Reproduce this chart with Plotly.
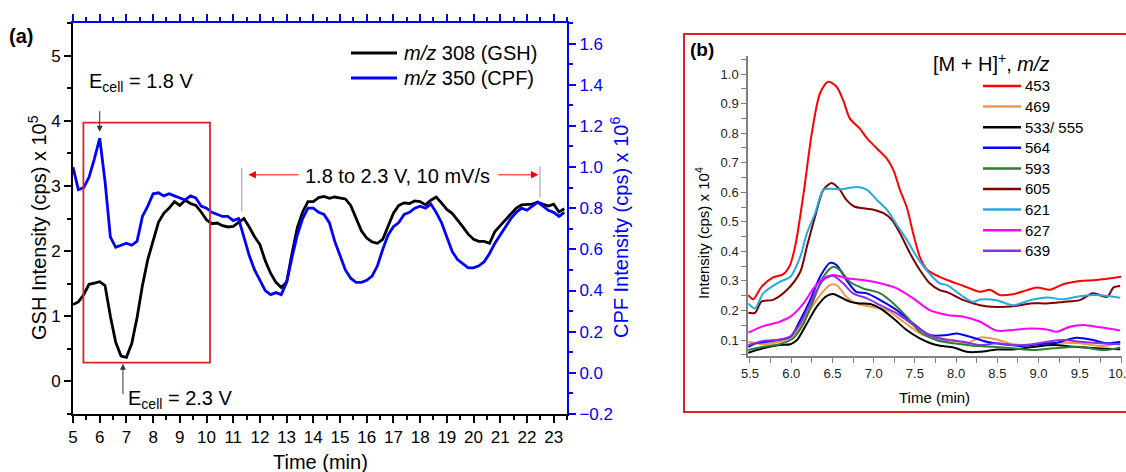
import plotly.graph_objects as go

W, H = 1126, 472
FONT = "Liberation Sans, Arial, sans-serif"

# ---------------- Panel (a) data ----------------
time_a = [5.0, 5.2, 5.4, 5.6, 5.8, 6.0, 6.2, 6.4, 6.6, 6.8, 7.0, 7.2, 7.4, 7.6, 7.8,
          8.0, 8.2, 8.4, 8.6, 8.8, 9.0, 9.2, 9.4, 9.6, 9.8, 10.0, 10.2, 10.4, 10.6, 10.8,
          11.0, 11.2, 11.4, 11.6, 11.8, 12.0, 12.2, 12.4, 12.6, 12.8, 13.0, 13.2, 13.4, 13.6, 13.8,
          14.0, 14.2, 14.4, 14.6, 14.8, 15.0, 15.2, 15.4, 15.6, 15.8, 16.0, 16.2, 16.4, 16.6, 16.8,
          17.0, 17.2, 17.4, 17.6, 17.8, 18.0, 18.2, 18.4, 18.6, 18.8, 19.0, 19.2, 19.4, 19.6, 19.8,
          20.0, 20.2, 20.4, 20.6, 20.8, 21.0, 21.2, 21.4, 21.6, 21.8, 22.0, 22.2, 22.4, 22.6, 22.8,
          23.0, 23.2, 23.4]
gsh = [1.18, 1.22, 1.33, 1.49, 1.51, 1.53, 1.47, 1.00, 0.60, 0.39, 0.37, 0.58, 0.98, 1.47, 1.87,
       2.14, 2.44, 2.58, 2.66, 2.76, 2.70, 2.78, 2.73, 2.70, 2.60, 2.48, 2.42, 2.43, 2.39, 2.37,
       2.38, 2.44, 2.50, 2.37, 2.22, 2.10, 1.85, 1.66, 1.52, 1.44, 1.52, 1.96, 2.36, 2.60, 2.76,
       2.76, 2.82, 2.84, 2.81, 2.83, 2.82, 2.80, 2.70, 2.50, 2.31, 2.20, 2.14, 2.12, 2.18, 2.38,
       2.58, 2.70, 2.74, 2.73, 2.77, 2.76, 2.71, 2.78, 2.83, 2.74, 2.64, 2.58, 2.48, 2.37, 2.26,
       2.18, 2.15, 2.15, 2.12, 2.30, 2.39, 2.48, 2.57, 2.66, 2.71, 2.71, 2.72, 2.75, 2.72, 2.69,
       2.72, 2.60, 2.65]
cpf = [1.00, 0.89, 0.90, 0.95, 1.04, 1.14, 0.93, 0.66, 0.61, 0.62, 0.63, 0.62, 0.64, 0.76, 0.81,
       0.87, 0.875, 0.86, 0.87, 0.86, 0.85, 0.84, 0.86, 0.85, 0.81, 0.80, 0.78, 0.77, 0.76, 0.76,
       0.74, 0.75, 0.66, 0.57, 0.50, 0.45, 0.40, 0.38, 0.39, 0.38, 0.44, 0.56, 0.67, 0.75, 0.80,
       0.80, 0.78, 0.77, 0.73, 0.64, 0.57, 0.50, 0.46, 0.44, 0.44, 0.45, 0.47, 0.52, 0.60, 0.67,
       0.71, 0.73, 0.77, 0.78, 0.80, 0.81, 0.80, 0.82, 0.78, 0.73, 0.66, 0.59, 0.55, 0.53, 0.51,
       0.51, 0.52, 0.54, 0.58, 0.63, 0.67, 0.71, 0.75, 0.78, 0.80, 0.79, 0.81, 0.83, 0.81, 0.79,
       0.78, 0.76, 0.78]
series_a_names = ["<i>m/z</i> 308 (GSH)", "<i>m/z</i> 350 (CPF)"]
series_a_colors = ["#000000", "#0000ff"]

# ---------------- Panel (b) data ----------------
b_labels = ["453", "469", "533/ 555", "564", "593", "605", "621", "627", "639"]
b_colors = ["#ff0000", "#f79646", "#000000", "#0000ff", "#2f7d32", "#7f0000", "#29a9e0", "#ff00ff", "#8b2fe8"]

t453 = [5.48, 5.54, 5.64, 5.78, 5.90, 5.98, 6.05, 6.15, 6.25, 6.35, 6.45, 6.55, 6.63, 6.71, 6.83, 6.92, 7.04,
        7.16, 7.24, 7.32, 7.40, 7.48, 7.56, 7.64, 7.72, 7.80, 7.89, 8.09, 8.29, 8.41, 8.53, 8.69, 8.86,
        8.98, 9.14, 9.30, 9.50, 9.70, 10.0]
v453 = [0.252, 0.238, 0.280, 0.312, 0.322, 0.350, 0.420, 0.596, 0.800, 0.935, 0.974, 0.957, 0.912, 0.850, 0.816,
        0.782, 0.748, 0.714, 0.675, 0.607, 0.551, 0.460, 0.381, 0.340, 0.325, 0.314, 0.303, 0.283, 0.263,
        0.270, 0.252, 0.255, 0.269, 0.278, 0.270, 0.289, 0.300, 0.303, 0.314]
t469 = [5.48, 5.66, 5.86, 6.03, 6.19, 6.35, 6.47, 6.55, 6.67, 6.79, 6.96, 7.16, 7.36, 7.56, 7.76, 7.97, 8.13,
        8.29, 8.49, 8.69, 8.90, 9.10, 9.30, 9.50, 9.79, 9.99]
v469 = [0.094, 0.086, 0.094, 0.117, 0.185, 0.252, 0.286, 0.286, 0.246, 0.224, 0.213, 0.201, 0.162, 0.123, 0.106,
        0.100, 0.089, 0.109, 0.102, 0.086, 0.083, 0.089, 0.091, 0.089, 0.080, 0.091]
t533 = [5.48, 5.66, 5.86, 5.99, 6.07, 6.19, 6.31, 6.43, 6.51, 6.59, 6.71, 6.83, 6.96, 7.08, 7.24, 7.40, 7.56,
        7.76, 7.97, 8.13, 8.29, 8.49, 8.69, 8.94, 9.18, 9.42, 9.70, 9.99]
v533 = [0.057, 0.072, 0.083, 0.086, 0.100, 0.156, 0.213, 0.249, 0.256, 0.246, 0.230, 0.224, 0.222, 0.207, 0.173,
        0.134, 0.106, 0.083, 0.075, 0.060, 0.060, 0.068, 0.068, 0.077, 0.083, 0.077, 0.072, 0.069]
t564 = [5.48, 5.57, 5.73, 5.99, 6.11, 6.23, 6.35, 6.47, 6.55, 6.67, 6.79, 6.92, 7.08, 7.28, 7.48, 7.68, 7.89,
        8.01, 8.17, 8.37, 8.57, 8.78, 8.98, 9.22, 9.46, 9.66, 9.83, 9.99]
v564 = [0.077, 0.089, 0.095, 0.111, 0.168, 0.235, 0.314, 0.361, 0.354, 0.303, 0.263, 0.258, 0.235, 0.201, 0.156,
        0.117, 0.117, 0.122, 0.111, 0.094, 0.086, 0.080, 0.086, 0.091, 0.108, 0.100, 0.089, 0.094]
t593 = [5.48, 5.66, 5.86, 6.03, 6.15, 6.27, 6.39, 6.51, 6.59, 6.71, 6.87, 7.08, 7.24, 7.40, 7.56, 7.76, 7.97,
        8.21, 8.45, 8.69, 8.94, 9.18, 9.50, 9.79, 9.99]
v593 = [0.066, 0.077, 0.086, 0.108, 0.156, 0.235, 0.314, 0.348, 0.337, 0.297, 0.275, 0.258, 0.224, 0.179, 0.128,
        0.100, 0.089, 0.081, 0.077, 0.072, 0.066, 0.072, 0.077, 0.066, 0.075]
t605 = [5.48, 5.56, 5.64, 5.78, 5.95, 6.11, 6.19, 6.29, 6.39, 6.49, 6.59, 6.67, 6.77, 6.88, 7.00, 7.12, 7.22,
        7.32, 7.44, 7.56, 7.68, 7.80, 7.89, 8.09, 8.29, 8.49, 8.69, 8.90, 9.10, 9.30, 9.50, 9.66, 9.83,
        9.91, 9.99]
v605 = [0.192, 0.192, 0.230, 0.236, 0.270, 0.331, 0.416, 0.518, 0.608, 0.631, 0.608, 0.574, 0.551, 0.546, 0.541,
        0.529, 0.507, 0.461, 0.394, 0.337, 0.292, 0.269, 0.262, 0.235, 0.218, 0.212, 0.214, 0.224, 0.224,
        0.229, 0.235, 0.258, 0.246, 0.278, 0.283]
t621 = [5.48, 5.56, 5.66, 5.86, 5.99, 6.11, 6.19, 6.29, 6.39, 6.49, 6.59, 6.71, 6.81, 6.92, 7.04, 7.16, 7.28,
        7.40, 7.52, 7.64, 7.80, 7.89, 8.09, 8.21, 8.29, 8.49, 8.69, 8.90, 9.10, 9.30, 9.50, 9.70, 9.99]
v621 = [0.224, 0.207, 0.258, 0.297, 0.314, 0.382, 0.461, 0.529, 0.608, 0.612, 0.610, 0.615, 0.618, 0.608, 0.574,
        0.541, 0.490, 0.440, 0.383, 0.337, 0.292, 0.286, 0.246, 0.229, 0.237, 0.235, 0.218, 0.235, 0.244,
        0.238, 0.248, 0.252, 0.243]
t627 = [5.48, 5.66, 5.86, 5.99, 6.15, 6.27, 6.39, 6.51, 6.67, 6.87, 7.08, 7.28, 7.48, 7.68, 7.89, 8.09, 8.29,
        8.49, 8.69, 8.90, 9.10, 9.22, 9.38, 9.54, 9.75, 9.99]
v627 = [0.125, 0.147, 0.162, 0.179, 0.224, 0.275, 0.309, 0.320, 0.309, 0.303, 0.292, 0.275, 0.241, 0.201, 0.185,
        0.179, 0.162, 0.132, 0.134, 0.139, 0.136, 0.128, 0.145, 0.151, 0.143, 0.132]
t639 = [5.48, 5.66, 5.86, 5.99, 6.11, 6.27, 6.39, 6.51, 6.63, 6.75, 6.92, 7.08, 7.28, 7.48, 7.68, 7.89, 8.09,
        8.29, 8.49, 8.69, 8.90, 9.10, 9.30, 9.50, 9.75, 9.99]
v639 = [0.083, 0.097, 0.102, 0.113, 0.156, 0.246, 0.303, 0.317, 0.292, 0.258, 0.241, 0.218, 0.190, 0.151, 0.117,
        0.100, 0.094, 0.083, 0.089, 0.083, 0.085, 0.094, 0.100, 0.094, 0.089, 0.086]

b_times = [t453, t469, t533, t564, t593, t605, t621, t627, t639]
b_values = [v453, v469, v533, v564, v593, v605, v621, v627, v639]


def px(x):
    return x / W


def py(y):
    return 1 - y / H


fig = go.Figure()

# panel (a) traces
fig.add_trace(go.Scatter(x=time_a, y=gsh, mode="lines", name=series_a_names[0],
                         line=dict(color=series_a_colors[0], width=2.8), xaxis="x", yaxis="y",
                         showlegend=False))
fig.add_trace(go.Scatter(x=time_a, y=cpf, mode="lines", name=series_a_names[1],
                         line=dict(color=series_a_colors[1], width=2.8), xaxis="x", yaxis="y2",
                         showlegend=False))
# invisible trace to activate the top axis
fig.add_trace(go.Scatter(x=[time_a[0]], y=[gsh[0]], mode="markers", marker=dict(opacity=0),
                         xaxis="x3", yaxis="y", showlegend=False, hoverinfo="skip"))

# panel (b) traces
for lab, col, tt, vv in zip(b_labels, b_colors, b_times, b_values):
    fig.add_trace(go.Scatter(x=tt, y=vv, mode="lines", name=lab,
                             line=dict(color=col, width=2, shape="spline", smoothing=0.8),
                             xaxis="x2", yaxis="y3", showlegend=False))

dom_ax = [px(73), px(567)]
dom_ay = [py(414), py(23)]
dom_bx = [px(748), px(1122)]
dom_by = [py(356), py(56)]

tickfont_a = dict(family=FONT, size=17, color="black")
tickfont_b = dict(family=FONT, size=13, color="#222222")

fig.update_layout(
    width=W, height=H,
    margin=dict(l=0, r=0, t=0, b=0),
    paper_bgcolor="white", plot_bgcolor="white",
    showlegend=False,
    font=dict(family=FONT, color="black"),
    xaxis=dict(domain=dom_ax, anchor="y", range=[5, 23.5], tick0=5, dtick=1,
               showline=True, linecolor="black", linewidth=2, ticks="outside", ticklen=7, tickwidth=2,
               tickcolor="black", minor=dict(ticks="outside", ticklen=4, tickwidth=2, dtick=0.5, tickcolor="black"),
               tickfont=tickfont_a, showgrid=False, zeroline=False, automargin=False),
    xaxis3=dict(overlaying="x", side="top", anchor="y", range=[5, 23.5], tick0=5, dtick=1,
                showline=True, linecolor="#0000ff", linewidth=2, ticks="outside", ticklen=7, tickwidth=2,
                tickcolor="#0000ff", minor=dict(ticks="outside", ticklen=4, tickwidth=2, dtick=0.5, tickcolor="#0000ff"),
                showticklabels=False, showgrid=False, zeroline=False, automargin=False),
    yaxis=dict(domain=dom_ay, anchor="x", range=[-0.5, 5.5], tick0=0, dtick=1,
               showline=True, linecolor="black", linewidth=2, ticks="outside", ticklen=7, tickwidth=2,
               tickcolor="black", minor=dict(ticks="outside", ticklen=4, tickwidth=2, dtick=0.5, tickcolor="black"),
               tickfont=tickfont_a, showgrid=False, zeroline=False, automargin=False),
    yaxis2=dict(overlaying="y", side="right", anchor="x", range=[-0.2, 1.7], tick0=0, dtick=0.2,
                tickformat=".1f", showline=True, linecolor="#0000ff", linewidth=2, ticks="outside",
                ticklen=7, tickwidth=2, tickcolor="#0000ff",
                minor=dict(ticks="outside", ticklen=4, tickwidth=2, dtick=0.1, tickcolor="#0000ff"),
                tickfont=dict(family=FONT, size=17, color="#0000ff"), showgrid=False, zeroline=False,
                automargin=False),
    xaxis2=dict(domain=dom_bx, anchor="y3", range=[5.476, 10.012], tick0=5.5, dtick=0.5, tickformat=".1f",
                showline=True, linecolor="#808080", linewidth=1.5, ticks="outside", ticklen=5, tickwidth=1,
                tickcolor="#808080", minor=dict(ticks="outside", ticklen=5, tickwidth=1, dtick=0.25, tickcolor="#808080"),
                tickfont=tickfont_b, ticklabeloverflow="allow", showgrid=False, zeroline=False, automargin=False),
    yaxis3=dict(domain=dom_by, anchor="x2", range=[0.046, 1.061], tick0=0, dtick=0.1, tickformat=".1f",
                showline=True, linecolor="#808080", linewidth=1.5, ticks="outside", ticklen=5, tickwidth=1,
                tickcolor="#808080", minor=dict(ticks="outside", ticklen=5, tickwidth=1, dtick=0.05, tickcolor="#808080"),
                tickfont=tickfont_b, showgrid=False, zeroline=False, automargin=False),
)

shapes = []
annots = []

# red box in panel (a)
shapes.append(dict(type="rect", xref="x", yref="y", x0=5.39, x1=10.13, y0=0.287, y1=3.97,
                   line=dict(color="#dd2222", width=1.8)))
# gray vertical markers
shapes.append(dict(type="line", xref="x", yref="y", x0=11.32, x1=11.32, y0=2.61, y1=3.28,
                   line=dict(color="#999999", width=1)))
shapes.append(dict(type="line", xref="x", yref="y", x0=22.49, x1=22.49, y0=2.82, y1=3.30,
                   line=dict(color="#999999", width=1)))
# red frame around panel (b)
shapes.append(dict(type="rect", xref="paper", yref="paper", x0=px(684), x1=px(1130), y0=py(412), y1=py(34),
                   line=dict(color="#dd2222", width=2)))

# panel (a) legend
leg_a_y = [53, 78]
for name, col, yy in zip(series_a_names, series_a_colors, leg_a_y):
    shapes.append(dict(type="line", xref="paper", yref="paper", x0=px(351), x1=px(397), y0=py(yy), y1=py(yy),
                       line=dict(color=col, width=3)))
    annots.append(dict(xref="paper", yref="paper", x=px(402), y=py(yy), text=name, showarrow=False,
                       xanchor="left", yanchor="middle", font=dict(family=FONT, size=20, color="black")))

# panel (b) legend
leg_b_y = [86, 106.6, 127.2, 147.8, 168.4, 189, 209.6, 230.2, 250.8]
for lab, col, yy in zip(b_labels, b_colors, leg_b_y):
    shapes.append(dict(type="line", xref="paper", yref="paper", x0=px(983), x1=px(1021), y0=py(yy), y1=py(yy),
                       line=dict(color=col, width=2.5)))
    annots.append(dict(xref="paper", yref="paper", x=px(1023), y=py(yy), text=lab, showarrow=False,
                       xanchor="left", yanchor="middle", font=dict(family=FONT, size=15, color="black")))
annots.append(dict(xref="paper", yref="paper", x=px(931), y=py(63), text="[M + H]<sup>+</sup>, <i>m/z</i>",
                   showarrow=False, xanchor="left", yanchor="middle", font=dict(family=FONT, size=20, color="black")))

# panel (a) annotations
annots.append(dict(xref="x", yref="y", x=5.52, y=4.59, text="E<sub>cell</sub> = 1.8 V", showarrow=False,
                   xanchor="left", yanchor="middle", font=dict(family=FONT, size=20, color="black")))
annots.append(dict(xref="x", yref="y", x=6.98, y=-0.28, text="E<sub>cell</sub> = 2.3 V", showarrow=False,
                   xanchor="left", yanchor="middle", font=dict(family=FONT, size=20, color="black")))
annots.append(dict(xref="x", yref="y", x=6.0, y=3.83, axref="x", ayref="y", ax=6.0, ay=4.17, text="",
                   showarrow=True, arrowhead=2, arrowsize=1.2, arrowwidth=1, arrowcolor="#333333"))
annots.append(dict(xref="x", yref="y", x=6.87, y=0.27, axref="x", ayref="y", ax=6.87, ay=-0.22, text="",
                   showarrow=True, arrowhead=2, arrowsize=1.2, arrowwidth=1, arrowcolor="#333333"))
annots.append(dict(xref="x", yref="y", x=17.15, y=3.15, text="1.8 to 2.3 V, 10 mV/s", showarrow=False,
                   xanchor="center", yanchor="middle", font=dict(family=FONT, size=20, color="black")))
annots.append(dict(xref="x", yref="y", x=11.57, y=3.17, axref="x", ayref="y", ax=13.5, ay=3.17, text="",
                   showarrow=True, arrowhead=2, arrowsize=1.5, arrowwidth=1, arrowcolor="#ff0000"))
annots.append(dict(xref="x", yref="y", x=22.43, y=3.17, axref="x", ayref="y", ax=20.87, ay=3.17, text="",
                   showarrow=True, arrowhead=2, arrowsize=1.5, arrowwidth=1, arrowcolor="#ff0000"))

# axis titles and panel labels
annots.append(dict(xref="paper", yref="paper", x=px(320), y=py(462), text="Time (min)", showarrow=False,
                   xanchor="center", yanchor="middle", font=dict(family=FONT, size=20, color="black")))
annots.append(dict(xref="paper", yref="paper", x=px(37), y=py(228), text="GSH Intensity (cps) x 10<sup>5</sup>",
                   showarrow=False, textangle=-90, xanchor="center", yanchor="middle",
                   font=dict(family=FONT, size=20, color="black")))
annots.append(dict(xref="paper", yref="paper", x=px(619), y=py(228), text="CPF Intensity (cps) x 10<sup>6</sup>",
                   showarrow=False, textangle=-90, xanchor="center", yanchor="middle",
                   font=dict(family=FONT, size=20, color="#0000ff")))
annots.append(dict(xref="paper", yref="paper", x=px(21), y=py(36), text="<b>(a)</b>", showarrow=False,
                   xanchor="center", yanchor="middle", font=dict(family=FONT, size=20, color="black")))
annots.append(dict(xref="paper", yref="paper", x=px(702), y=py(49), text="<b>(b)</b>", showarrow=False,
                   xanchor="center", yanchor="middle", font=dict(family=FONT, size=19, color="black")))
annots.append(dict(xref="paper", yref="paper", x=px(935), y=py(397), text="Time (min)", showarrow=False,
                   xanchor="center", yanchor="middle", font=dict(family=FONT, size=15, color="black")))
annots.append(dict(xref="paper", yref="paper", x=px(702), y=py(233), text="Intensity (cps) x 10<sup>4</sup>",
                   showarrow=False, textangle=-90, xanchor="center", yanchor="middle",
                   font=dict(family=FONT, size=15, color="black")))

fig.update_layout(shapes=shapes, annotations=annots)
fig.write_html("out.html", config={"displayModeBar": False},
               post_script="document.body.style.margin='0px';document.body.style.overflow='hidden';")
